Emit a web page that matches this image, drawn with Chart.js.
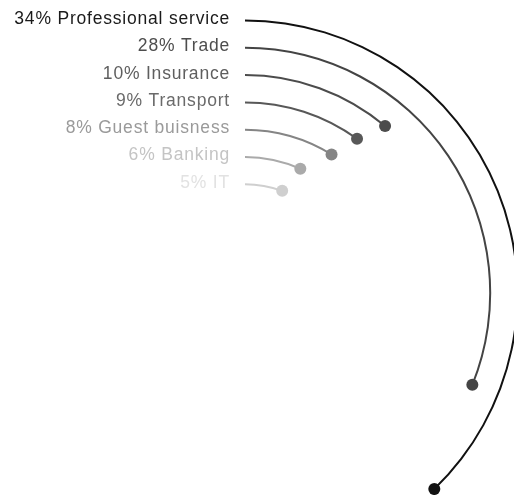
<!DOCTYPE html>
<html>
<head>
<meta charset="utf-8">
<script src="https://cdn.jsdelivr.net/npm/chart.js@4"></script>
<style>
  html, body { margin: 0; background: #fff; }
</style>
</head>
<body>
<canvas id="rings" width="514" height="495"></canvas>
<script>
const categories = ['Professional service', 'Trade', 'Insurance', 'Transport', 'Guest buisness', 'Banking', 'IT'];
const shares = [34, 28, 10, 9, 8, 6, 5];
const ringColors = ['#111111', '#444444', '#4c4c4c', '#585858', '#858585', '#aaaaaa', '#cfcfcf'];
const labelColors = ['#1a1a1a', '#4d4d4d', '#5e5e5e', '#6a6a6a', '#9a9a9a', '#c4c4c4', '#e2e2e2'];
const fullTurn = 90; // share value that would close a whole circle

const ringWidth = 2;
const gapWidth = 25.3;
const clear = 'rgba(0,0,0,0)';

// one thin ring per category, transparent spacer rings in between
const datasets = [];
shares.forEach((v, i) => {
  if (i > 0) {
    datasets.push({ data: [1], backgroundColor: [clear], weight: gapWidth });
  }
  datasets.push({
    data: [v, fullTurn - v],
    backgroundColor: [ringColors[i], clear],
    weight: ringWidth,
    ring: i
  });
});

// end dots and the labels on the left of each ring
const ringLabels = {
  id: 'ringLabels',
  afterDatasetsDraw(chart) {
    const ctx = chart.ctx;
    chart.data.datasets.forEach((ds, di) => {
      if (ds.ring === undefined) return;
      const arc = chart.getDatasetMeta(di).data[0];
      const { x, y, endAngle, innerRadius, outerRadius } =
        arc.getProps(['x', 'y', 'endAngle', 'innerRadius', 'outerRadius'], true);
      const r = (innerRadius + outerRadius) / 2;
      ctx.save();
      ctx.fillStyle = ringColors[ds.ring];
      ctx.beginPath();
      ctx.arc(x + Math.cos(endAngle) * r, y + Math.sin(endAngle) * r, 6, 0, Math.PI * 2);
      ctx.fill();

      ctx.font = '17.5px "Liberation Sans", Arial, sans-serif';
      ctx.letterSpacing = '0.8px';
      ctx.textAlign = 'right';
      ctx.textBaseline = 'alphabetic';
      ctx.fillStyle = labelColors[ds.ring];
      ctx.fillText(shares[ds.ring] + '% ' + categories[ds.ring], x - 15, y - r + 3.5);
      ctx.restore();
    });
  }
};

new Chart(document.getElementById('rings'), {
  type: 'doughnut',
  data: { labels: ['share', 'rest'], datasets: datasets },
  options: {
    responsive: false,
    animation: false,
    radius: 273.5,
    cutout: '39.38%',
    layout: { padding: { left: 0, right: 24, top: 91, bottom: 0 } },
    elements: { arc: { borderWidth: 0 } },
    plugins: {
      legend: { display: false },
      tooltip: { enabled: false }
    }
  },
  plugins: [ringLabels]
});
</script>
</body>
</html>
